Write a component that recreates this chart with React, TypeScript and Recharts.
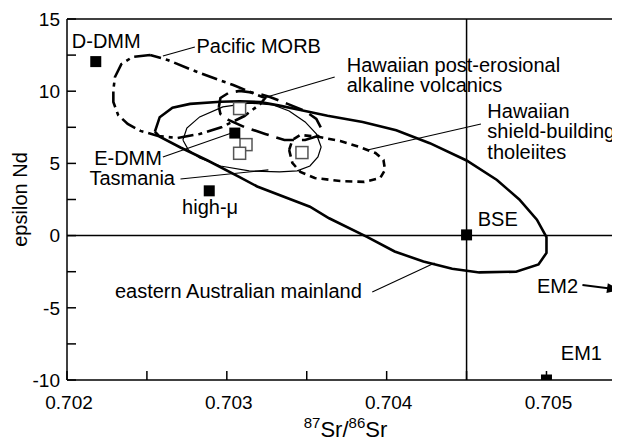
import { ScatterChart, Scatter, XAxis, YAxis, ReferenceLine } from 'recharts';

type Pair = [number, number];

const FONT = '"Liberation Sans", Arial, Helvetica, sans-serif';

// axis ticks
const xTicks = [0.702, 0.7025, 0.703, 0.7035, 0.704, 0.7045, 0.705];
const xTickLabels = [0.702, 0.703, 0.704, 0.705];
const yTicks = [-10, -7.5, -5, -2.5, 0, 2.5, 5, 7.5, 10, 12.5, 15];
const yTickLabels = [-10, -5, 0, 5, 10, 15];

// mantle end-members (filled squares)
const endMemberSr = [0.70218, 0.70305, 0.70289, 0.7045, 0.705];
const endMemberNd = [12.05, 7.1, 3.1, 0.05, -10];

// open squares
const openSr = [0.70308, 0.70312, 0.70308, 0.70347];
const openNd = [8.8, 6.3, 5.7, 5.75];

// field outlines, [87Sr/86Sr, epsilon Nd]
const mainland: Pair[] = [
  [0.70255, 7.2], [0.70258, 8.2], [0.70266, 8.85], [0.70277, 9.12], [0.70296, 9.27],
  [0.70308, 9.3], [0.70321, 9.25], [0.70333, 9.0], [0.70346, 8.7], [0.70363, 8.3],
  [0.70385, 7.87], [0.70406, 7.3], [0.70427, 6.4], [0.7045, 5.2], [0.70469, 3.85],
  [0.70483, 2.5], [0.70494, 1.1], [0.705, -0.1], [0.705, -1.2], [0.70495, -2.0],
  [0.70481, -2.5], [0.70458, -2.55], [0.70441, -2.3], [0.70423, -1.8], [0.70405, -1.1],
  [0.70388, -0.1], [0.70364, 1.2], [0.70352, 2.0], [0.70319, 3.4], [0.70308, 4.05],
  [0.70288, 5.2], [0.70271, 6.1], [0.70258, 6.85], [0.70255, 7.2],
];
const tasmania: Pair[] = [
  [0.702725, 6.62], [0.70275, 7.45], [0.70283, 8.22], [0.702975, 8.91], [0.70314, 9.18],
  [0.70329, 9.05], [0.70339, 8.63], [0.70349, 7.87], [0.70356, 7.04], [0.70359, 6.14],
  [0.70357, 5.45], [0.70352, 4.82], [0.70344, 4.48], [0.70333, 4.41], [0.70314, 4.48],
  [0.70296, 4.82], [0.70283, 5.38], [0.70276, 5.93], [0.702725, 6.62],
];
const pacificMorb: Pair[] = [
  [0.70252, 12.51], [0.70241, 12.37], [0.70234, 11.88], [0.7023, 10.98], [0.70229, 10.08],
  [0.70229, 9.25], [0.70232, 8.35], [0.70238, 7.73], [0.70246, 7.25], [0.70257, 6.9],
  [0.70269, 6.76], [0.70283, 7.04], [0.70297, 7.52], [0.70311, 8.28], [0.70321, 9.12],
  [0.70324, 9.53], [0.70316, 9.88], [0.70304, 10.43], [0.70283, 11.26], [0.70263, 12.16],
  [0.70252, 12.51],
];
const postErosional: Pair[] = [
  [0.70295, 8.91], [0.70296, 9.53], [0.70301, 9.88], [0.70308, 10.02], [0.70318, 9.88],
  [0.70327, 9.6], [0.70338, 9.12], [0.70349, 8.63], [0.70356, 8.08], [0.70359, 7.45],
  [0.70357, 6.9], [0.70349, 6.62], [0.70336, 6.62], [0.70324, 7.04], [0.70311, 7.52],
  [0.70301, 8.01], [0.70296, 8.42], [0.70295, 8.91],
];
const shieldBuilding: Pair[] = [
  [0.70339, 5.93], [0.70341, 6.62], [0.70346, 6.97], [0.70358, 6.83], [0.70371, 6.55],
  [0.70383, 6.14], [0.70393, 5.72], [0.70398, 5.24], [0.70399, 4.55], [0.70396, 3.99],
  [0.70386, 3.72], [0.70371, 3.78], [0.70355, 3.99], [0.70346, 4.41], [0.70341, 5.03],
  [0.70339, 5.93],
];

// annotation texts and where their baselines start
const labelTexts = [
  'D-DMM', 'Pacific MORB', 'Hawaiian post-erosional', 'alkaline volcanics',
  'Hawaiian', 'shield-building', 'tholeiites', 'E-DMM', 'Tasmania', 'high-μ',
  'BSE', 'eastern Australian mainland', 'EM2', 'EM1',
];
const labelSr = [
  0.70203, 0.70281, 0.70375, 0.70375, 0.70463, 0.70463, 0.70463,
  0.70217, 0.70214, 0.70272, 0.70457, 0.7023, 0.70494, 0.70509,
];
const labelNd = [
  13.0, 12.65, 11.33, 9.95, 8.15, 6.76, 5.31, 4.89, 3.51, 1.5, 0.67, -4.32, -3.97, -8.61,
];

// leader lines
const leaders: Pair[][] = [
  [[0.7026, 12.44], [0.7028, 13.06]],
  [[0.70325, 9.6], [0.703675, 10.98]],
  [[0.70388, 5.93], [0.70459, 7.73]],
  [[0.7026, 5.45], [0.70303, 7.11]],
  [[0.70271, 3.92], [0.70326, 4.55]],
  [[0.70391, -3.9], [0.7043, -1.89]],
];
const em2Arrow: Pair[] = [[0.705225, -3.42], [0.70546, -3.76]];

const toPts = (a: Pair[]) => a.map(([x, y]) => ({ x, y }));

const Empty = () => <g />;

const FilledSquare = (p: any) => (
  <rect x={p.cx - 5.5} y={p.cy - 5.5} width={11} height={11} fill="#000" />
);
const OpenSquare = (p: any) => (
  <rect x={p.cx - 6} y={p.cy - 6} width={12} height={12} fill="#fff" stroke="#555" strokeWidth={1.5} />
);
const TextShape = (p: any) => (
  <text x={p.cx} y={p.cy} fontSize={20} fontFamily={FONT} fill="#000">
    {p.payload.text}
  </text>
);
const ArrowHead = (p: any) => (
  <polygon points="0,0 -13,-5 -13,5" fill="#000" transform={`translate(${p.cx},${p.cy}) rotate(7.7)`} />
);

const XTick = (props: any) => {
  const { x, y, payload } = props;
  const v = payload.value;
  const major = xTickLabels.some((l) => Math.abs(l - v) < 1e-7);
  return (
    <g>
      <line x1={x} x2={x} y1={y} y2={y - 9} stroke="#000" strokeWidth={1.5} />
      {major && (
        <text x={x + 2} y={y + 29} textAnchor="middle" fontSize={19} fontFamily={FONT} fill="#000">
          {v.toFixed(3)}
        </text>
      )}
    </g>
  );
};

const YTick = (props: any) => {
  const { x, y, payload } = props;
  const v = payload.value;
  const major = yTickLabels.includes(v);
  return (
    <g>
      <line x1={x} x2={x + 9} y1={y} y2={y} stroke="#000" strokeWidth={1.5} />
      {major && (
        <text x={x - 7} y={y} dy="0.36em" textAnchor="end" fontSize={19} fontFamily={FONT} fill="#000">
          {String(v)}
        </text>
      )}
    </g>
  );
};

const XTitle = (props: any) => {
  const vb = props.viewBox;
  return (
    <text x={vb.x + vb.width / 2 + 2} y={vb.y + 57} textAnchor="middle" fontFamily={FONT} fontSize={22} fill="#000">
      <tspan fontSize={15} dy={-9}>87</tspan>
      <tspan dy={9}>Sr/</tspan>
      <tspan fontSize={15} dy={-9}>86</tspan>
      <tspan dy={9}>Sr</tspan>
    </text>
  );
};

const YTitle = (props: any) => {
  const vb = props.viewBox;
  const cx = 19;
  const cy = vb.y + vb.height / 2;
  return (
    <text x={cx} y={cy} textAnchor="middle" fontFamily={FONT} fontSize={20} fill="#000" transform={`rotate(-90 ${cx} ${cy})`}>
      epsilon Nd
    </text>
  );
};

export default function App() {
  const endMembers = endMemberSr.map((x, i) => ({ x, y: endMemberNd[i] }));
  const open = openSr.map((x, i) => ({ x, y: openNd[i] }));
  const labels = labelTexts.map((text, i) => ({ x: labelSr[i], y: labelNd[i], text }));

  const solid = { stroke: '#000', strokeWidth: 2.6, fill: 'none' };

  return (
    <ScatterChart width={612} height={434} margin={{ top: 11, right: 0, bottom: 22, left: 0 }}>
      <XAxis
        type="number"
        dataKey="x"
        domain={[0.702, 0.70546]}
        ticks={xTicks}
        interval={0}
        allowDataOverflow
        tick={<XTick />}
        tickLine={false}
        tickSize={0}
        tickMargin={0}
        height={40}
        axisLine={{ stroke: '#000', strokeWidth: 1.5 }}
        label={{ content: XTitle }}
      />
      <YAxis
        type="number"
        dataKey="y"
        domain={[-10, 15]}
        ticks={yTicks}
        interval={0}
        allowDataOverflow
        tick={<YTick />}
        tickLine={false}
        tickSize={0}
        tickMargin={0}
        width={59}
        axisLine={{ stroke: '#000', strokeWidth: 1.5 }}
        label={{ content: YTitle }}
      />
      <ReferenceLine y={15} stroke="#000" strokeWidth={1.5} />
      <ReferenceLine y={0} stroke="#000" strokeWidth={1.5} />
      <ReferenceLine x={0.7045} stroke="#000" strokeWidth={1.5} />

      <Scatter data={toPts(mainland)} line={solid} shape={Empty} isAnimationActive={false} />
      <Scatter data={toPts(tasmania)} line={{ ...solid, strokeWidth: 1.2 }} shape={Empty} isAnimationActive={false} />
      <Scatter data={toPts(pacificMorb)} line={{ ...solid, strokeDasharray: '16 5 4 5' }} shape={Empty} isAnimationActive={false} />
      <Scatter data={toPts(postErosional)} line={{ ...solid, strokeDasharray: '18 8' }} shape={Empty} isAnimationActive={false} />
      <Scatter data={toPts(shieldBuilding)} line={{ ...solid, strokeDasharray: '7 5' }} shape={Empty} isAnimationActive={false} />

      {leaders.map((seg, i) => (
        <Scatter key={i} data={toPts(seg)} line={{ stroke: '#000', strokeWidth: 1.1 }} shape={Empty} isAnimationActive={false} />
      ))}
      <Scatter data={toPts(em2Arrow)} line={{ stroke: '#000', strokeWidth: 2 }} shape={Empty} isAnimationActive={false} />
      <Scatter data={toPts(em2Arrow.slice(1))} shape={ArrowHead} isAnimationActive={false} />

      <Scatter data={open} shape={OpenSquare} isAnimationActive={false} />
      <Scatter data={endMembers} shape={FilledSquare} isAnimationActive={false} />
      <Scatter data={labels} shape={TextShape} isAnimationActive={false} />
    </ScatterChart>
  );
}
